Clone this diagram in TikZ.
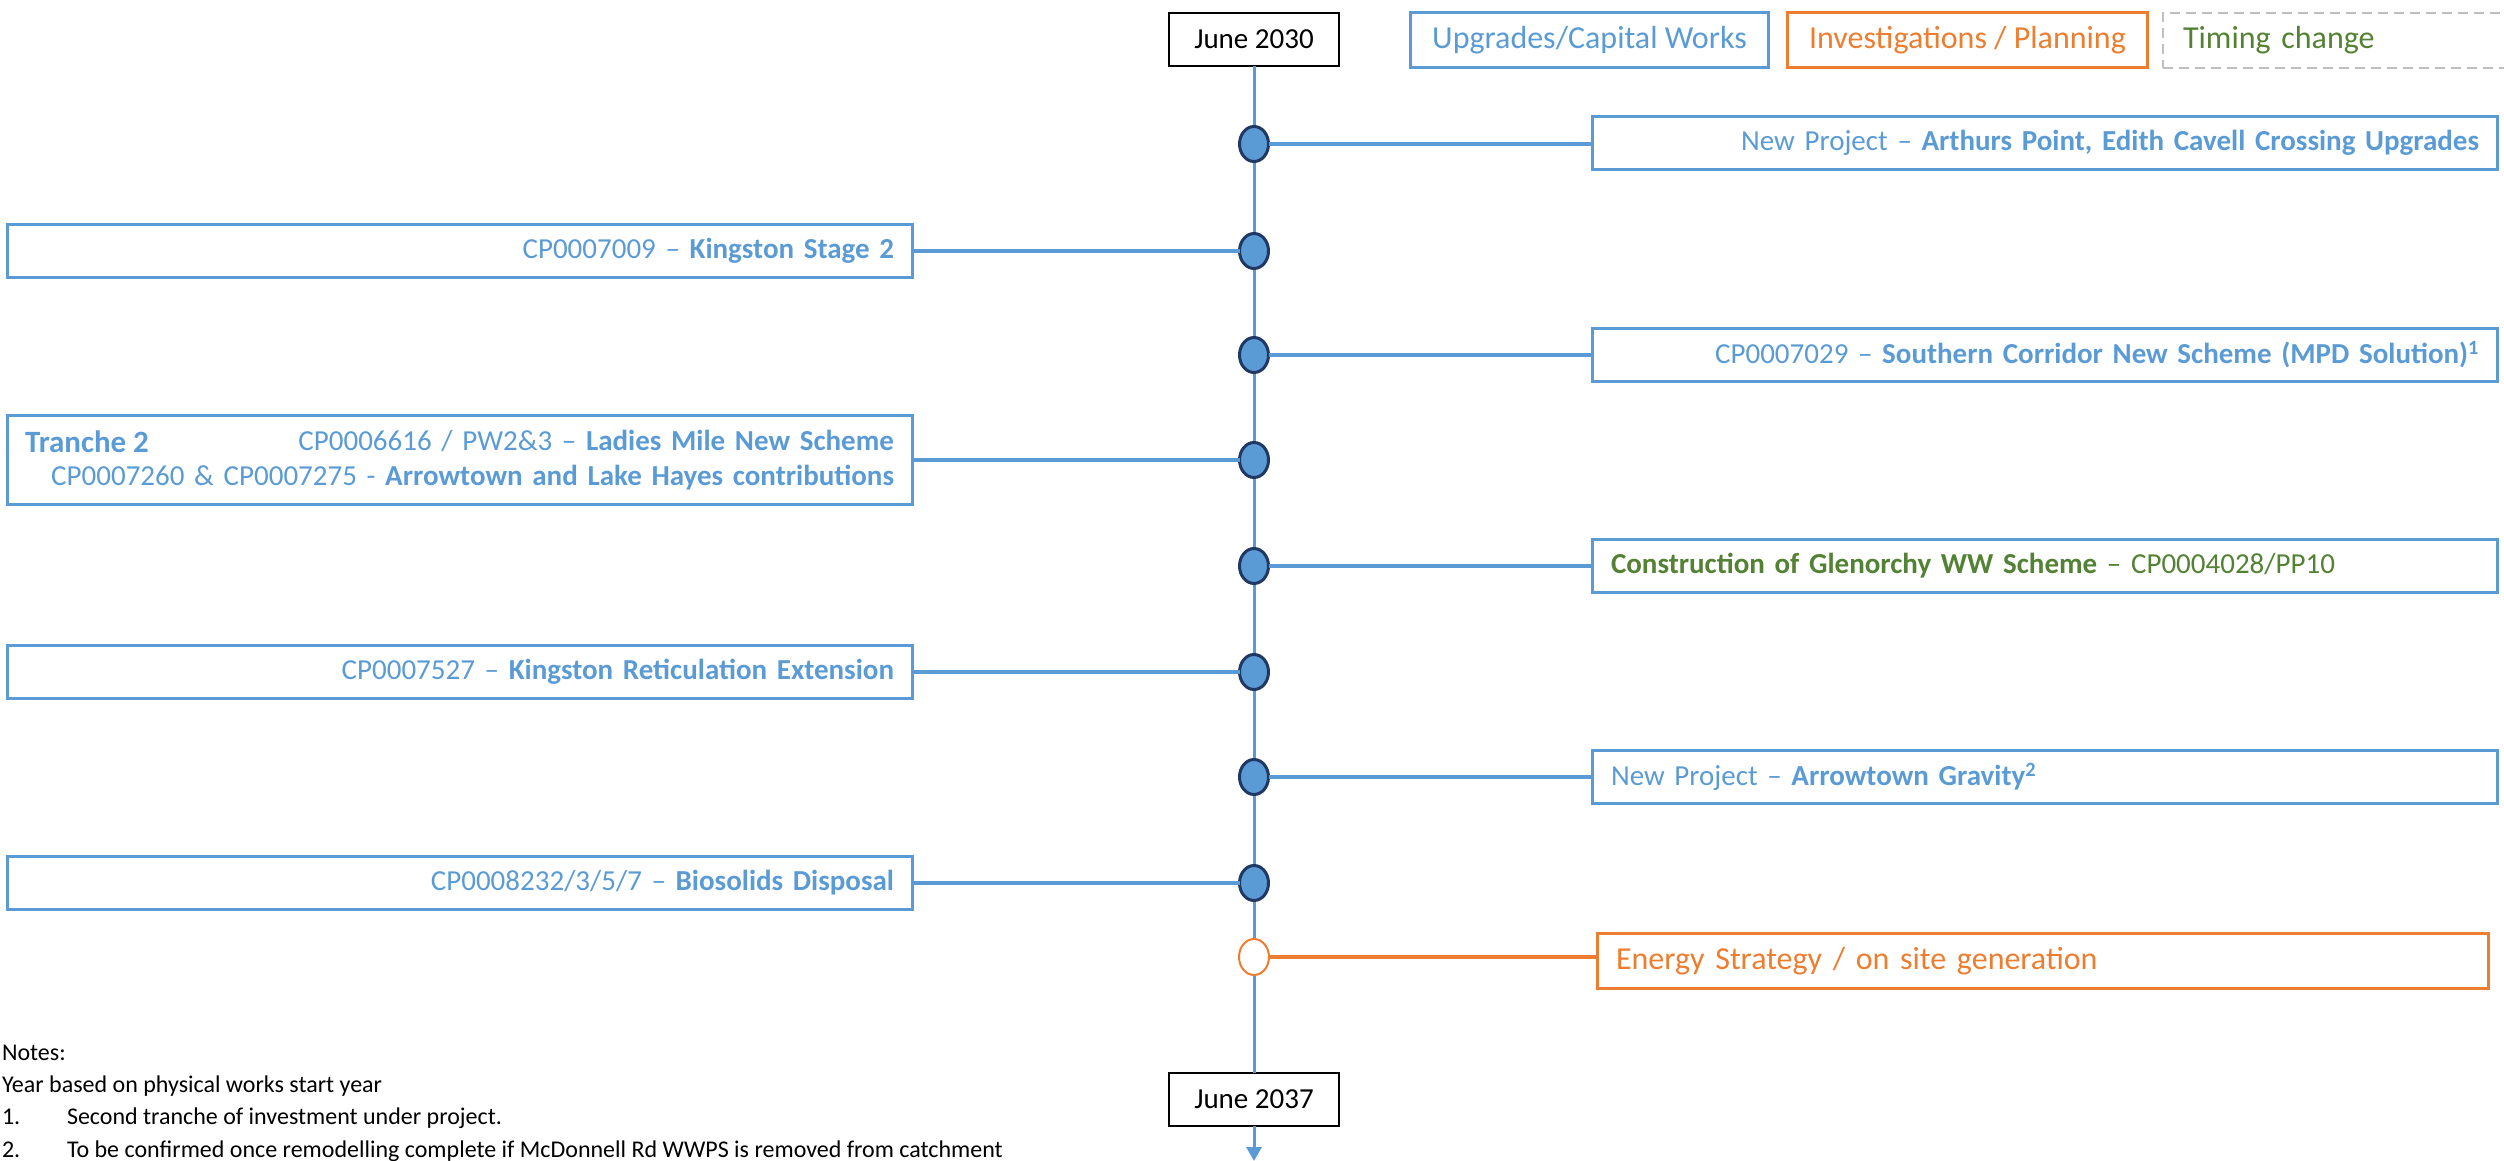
\documentclass[tikz,border=0pt]{standalone}
\usepackage{fontspec}
\setmainfont{Carlito}
\usetikzlibrary{arrows.meta,shapes.geometric}
\definecolor{cblue}{HTML}{5B9BD5}
\definecolor{corange}{HTML}{ED7D31}
\definecolor{cgreen}{HTML}{548235}
\definecolor{cnavy}{HTML}{203864}
\definecolor{cgray}{HTML}{BFBFBF}
\begin{document}
\begin{tikzpicture}[x=1pt,y=-1pt,
  every node/.style={inner sep=0pt, outer sep=0pt},
  mfont/.style={font=\fontsize{29}{35}\selectfont},
  lfont/.style={font=\fontsize{32}{38}\selectfont},
  nfont/.style={font=\fontsize{24}{29}\selectfont},
  bbox/.style={draw=cblue, line width=3pt, text=cblue, minimum width=905pt, minimum height=53pt, text width=868pt, mfont},
  datebox/.style={draw=black, line width=2pt, minimum width=170pt, minimum height=53pt, mfont},
  dot/.style={ellipse, draw=cnavy, fill=cblue, line width=3pt, minimum width=29pt, minimum height=35pt},
  odot/.style={ellipse, draw=corange, fill=white, line width=2pt, minimum width=30pt, minimum height=36pt},
  conn/.style={draw=cblue, line width=3.5pt},
  oconn/.style={draw=corange, line width=3.5pt},
  vline/.style={draw=cblue, line width=3pt},
  note/.style={anchor=base west, nfont, text=black}
]
\useasboundingbox (0,0) rectangle (2504,1161);

% date boxes
\node[datebox] (j30) at (1254,39.5) {June 2030};
\node[datebox] (j37) at (1254,1099.5) {June 2037};
\coordinate (tip) at (1254,1161);

% legend
\node[draw=cblue, line width=3pt, text=cblue, lfont, minimum width=358pt, minimum height=55pt] (lg1) at (1589.5,40.5) {Upgrades/Capital Works};
\node[draw=corange, line width=3pt, text=corange, lfont, minimum width=360pt, minimum height=55pt] (lg2) at (1967.5,40.5) {Investigations / Planning};
\node[draw=cgray, line width=2.5pt, dash pattern=on 10pt off 6pt, text=cgreen, lfont, minimum width=357pt, minimum height=55pt, text width=317pt, align=left] (lg3) at (2341.5,40.5) {Timing change};

% timeline
\draw[vline] (j30.south) -- (j37.north);
\draw[vline, -{Triangle[width=15pt,length=14pt]}] (j37.south) -- (tip);

% milestones
\node[dot] (d1) at (1254,144) {};
\node[dot] (d2) at (1254,251) {};
\node[dot] (d3) at (1254,355) {};
\node[dot] (d4) at (1254,460) {};
\node[dot] (d5) at (1254,566) {};
\node[dot] (d6) at (1254,672) {};
\node[dot] (d7) at (1254,777) {};
\node[dot] (d8) at (1254,883) {};
\node[odot] (d9) at (1254,957) {};

% right boxes
\node[bbox, align=right] (r1) at (2045,143) {New Project – \textbf{Arthurs Point, Edith Cavell Crossing Upgrades}};
\node[bbox, align=right] (r2) at (2045,355) {CP0007029 – \textbf{Southern Corridor New Scheme (MPD Solution)\textsuperscript{1}}};
\node[bbox, align=left, text=cgreen] (r3) at (2045,566) {\textbf{Construction of Glenorchy WW Scheme} – CP0004028/PP10};
\node[bbox, align=left] (r4) at (2045,777) {New Project – \textbf{Arrowtown Gravity\textsuperscript{2}}};
\node[draw=corange, line width=3pt, text=corange, lfont, minimum width=891pt, minimum height=55pt, text width=854pt, align=left] (r5) at (2043,961) {Energy Strategy / on site generation};

% left boxes
\node[bbox, align=right] (l1) at (460,251) {CP0007009 – \textbf{Kingston Stage 2}};
\node[bbox, align=right, minimum height=89pt] (l2) at (460,460) {CP0006616 / PW2\&3 – \textbf{Ladies Mile New Scheme}\\CP0007260 \& CP0007275 - \textbf{Arrowtown and Lake Hayes contributions}};
\node[anchor=base west, text=cblue, font=\fontsize{31}{37}\selectfont\bfseries] (tr) at (25,452) {Tranche 2};
\node[bbox, align=right] (l3) at (460,672) {CP0007527 – \textbf{Kingston Reticulation Extension}};
\node[bbox, align=right] (l4) at (460,883) {CP0008232/3/5/7 – \textbf{Biosolids Disposal}};

% connectors
\draw[conn] (d1.east) -- (d1.east -| r1.west);
\draw[conn] (d3.east) -- (d3.east -| r2.west);
\draw[conn] (d5.east) -- (d5.east -| r3.west);
\draw[conn] (d7.east) -- (d7.east -| r4.west);
\draw[oconn] (d9.east) -- (d9.east -| r5.west);
\draw[conn] (l1.east) -- (d2.west);
\draw[conn] (l2.east) -- (d4.west);
\draw[conn] (l3.east) -- (d6.west);
\draw[conn] (l4.east) -- (d8.west);

% notes
\node[note] (n0) at (2,1060) {Notes:};
\node[note] (n1) at (2,1092) {Year based on physical works start year};
\node[note] (n2a) at (2,1124) {1.};
\node[note] (n2b) at (67,1124) {Second tranche of investment under project.};
\node[note] (n3a) at (2,1157) {2.};
\node[note] (n3b) at (67,1157) {To be confirmed once remodelling complete if McDonnell Rd WWPS is removed from catchment};
\end{tikzpicture}
\end{document}
